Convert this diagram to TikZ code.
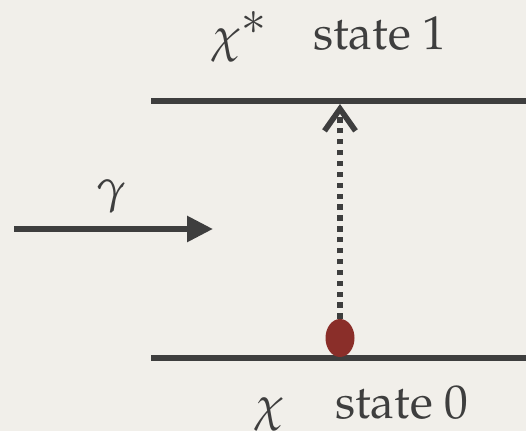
\documentclass[tikz,border=0pt]{standalone}
\usepackage[T1]{fontenc}
\usepackage{mathpazo}
\usepackage{xcolor}
\usepackage{tikz}
\usetikzlibrary{arrows.meta, shapes.geometric}
\definecolor{paper}{HTML}{F1EFEA}
\definecolor{ink}{HTML}{3E3E3E}
\definecolor{dotred}{HTML}{8A2E29}

\begin{document}
\begin{tikzpicture}[x=0.02cm, y=-0.02cm,
  level/.style={draw=ink, line width=3.3pt},
  lbl/.style={text=ink, inner sep=0pt, font=\fontsize{27}{30}\selectfont},
  particle/.style={ellipse, fill=dotred, minimum width=0.58cm, minimum height=0.76cm, inner sep=0pt},
  photon/.style={-{Triangle[length=0.52cm, width=0.5cm]}, draw=ink, line width=3.3pt},
  excite/.style={-{Straight Barb[length=0.44cm, width=0.62cm]}, draw=ink, line width=3.2pt,
                 dash pattern=on 3pt off 3.2pt}
]
\fill[paper] (0,0) rectangle (526,431);
\useasboundingbox (0,0) rectangle (526,431);

\coordinate (up1) at (151,101);
\coordinate (up2) at (526,101);
\coordinate (lo1) at (151,358);
\coordinate (lo2) at (526,358);
\coordinate (top) at (340,104);
\coordinate (gin) at (14,229);
\coordinate (gout) at (213,229);

\draw[level] (up1) -- (up2);
\draw[level] (lo1) -- (lo2);

\node[particle] (dot) at (340,338) {};

\node[lbl, anchor=base west] (nchis) at (211,52) {$\chi^{\textstyle *}$};
\node[lbl, anchor=base west] (nst1)  at (313,50) {state 1};
\node[lbl, anchor=base west] (nchi)  at (254,420) {$\chi$};
\node[lbl, anchor=base west] (nst0)  at (335,418) {state 0};
\node[lbl] (ngam) at (111,196) {$\gamma$};

\draw[photon] (gin) -- (gout);
\draw[excite] (dot.north) -- (top);
\end{tikzpicture}
\end{document}
